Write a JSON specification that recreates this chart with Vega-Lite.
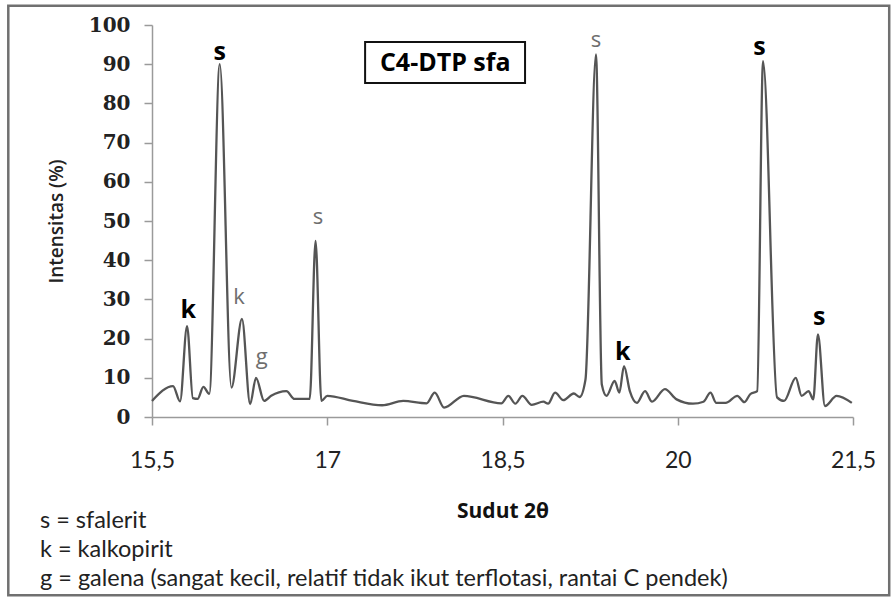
{
  "$schema": "https://vega.github.io/schema/vega-lite/v6.json",
  "width": 701,
  "height": 392,
  "autosize": {"type": "none"},
  "padding": {"left": 152, "top": 25, "right": 40, "bottom": 181},
  "background": "white",
  "config": {
    "view": {"stroke": null},
    "axis": {"labelOverlap": false, "labelSeparation": 0},
    "axisY": {"tickCount": 11, "labelOverlap": false}
  },
  "title": {
    "text": ["s = sfalerit", "k = kalkopirit", "g = galena (sangat kecil, relatif tidak ikut terflotasi, rantai C pendek)"],
    "orient": "bottom",
    "anchor": "start",
    "frame": "group",
    "dx": -112,
    "offset": -88,
    "font": "Lato",
    "fontSize": 23.5,
    "fontWeight": "normal",
    "color": "#222222",
    "lineHeight": 29
  },
  "datasets": {
    "pattern": [
      {"angle": 15.50, "intensity": 4.1},
      {"angle": 15.68, "intensity": 7.9},
      {"angle": 15.74, "intensity": 4.0},
      {"angle": 15.80, "intensity": 23.2},
      {"angle": 15.85, "intensity": 4.8},
      {"angle": 15.89, "intensity": 4.6},
      {"angle": 15.94, "intensity": 7.7},
      {"angle": 15.99, "intensity": 5.9},
      {"angle": 16.08, "intensity": 90.0},
      {"angle": 16.18, "intensity": 7.5},
      {"angle": 16.27, "intensity": 25.0},
      {"angle": 16.34, "intensity": 3.3},
      {"angle": 16.39, "intensity": 10.0},
      {"angle": 16.46, "intensity": 4.1},
      {"angle": 16.52, "intensity": 5.4},
      {"angle": 16.65, "intensity": 6.6},
      {"angle": 16.72, "intensity": 4.6},
      {"angle": 16.85, "intensity": 4.6},
      {"angle": 16.90, "intensity": 44.9},
      {"angle": 16.95, "intensity": 4.1},
      {"angle": 17.00, "intensity": 5.4},
      {"angle": 17.22, "intensity": 4.1},
      {"angle": 17.47, "intensity": 3.0},
      {"angle": 17.65, "intensity": 4.1},
      {"angle": 17.85, "intensity": 3.5},
      {"angle": 17.92, "intensity": 6.2},
      {"angle": 18.00, "intensity": 2.4},
      {"angle": 18.17, "intensity": 5.4},
      {"angle": 18.49, "intensity": 3.5},
      {"angle": 18.55, "intensity": 5.4},
      {"angle": 18.61, "intensity": 3.4},
      {"angle": 18.67, "intensity": 5.4},
      {"angle": 18.75, "intensity": 3.1},
      {"angle": 18.85, "intensity": 3.9},
      {"angle": 18.89, "intensity": 3.4},
      {"angle": 18.95, "intensity": 6.2},
      {"angle": 19.02, "intensity": 4.3},
      {"angle": 19.11, "intensity": 6.0},
      {"angle": 19.16, "intensity": 5.1},
      {"angle": 19.21, "intensity": 9.5},
      {"angle": 19.30, "intensity": 92.5},
      {"angle": 19.35, "intensity": 8.3},
      {"angle": 19.39, "intensity": 5.4},
      {"angle": 19.46, "intensity": 9.2},
      {"angle": 19.50, "intensity": 6.2},
      {"angle": 19.54, "intensity": 13.0},
      {"angle": 19.59, "intensity": 6.6},
      {"angle": 19.65, "intensity": 3.6},
      {"angle": 19.72, "intensity": 6.6},
      {"angle": 19.78, "intensity": 3.9},
      {"angle": 19.89, "intensity": 7.1},
      {"angle": 19.99, "intensity": 4.5},
      {"angle": 20.13, "intensity": 3.4},
      {"angle": 20.22, "intensity": 3.9},
      {"angle": 20.28, "intensity": 6.2},
      {"angle": 20.33, "intensity": 3.6},
      {"angle": 20.41, "intensity": 3.6},
      {"angle": 20.51, "intensity": 5.4},
      {"angle": 20.57, "intensity": 3.8},
      {"angle": 20.62, "intensity": 5.8},
      {"angle": 20.68, "intensity": 6.6},
      {"angle": 20.73, "intensity": 90.8},
      {"angle": 20.85, "intensity": 5.0},
      {"angle": 20.91, "intensity": 4.1},
      {"angle": 21.01, "intensity": 10.0},
      {"angle": 21.06, "intensity": 5.4},
      {"angle": 21.12, "intensity": 6.6},
      {"angle": 21.16, "intensity": 4.5},
      {"angle": 21.20, "intensity": 21.1},
      {"angle": 21.26, "intensity": 2.8},
      {"angle": 21.36, "intensity": 5.4},
      {"angle": 21.49, "intensity": 3.6}
    ],
    "major_labels": [
      {"angle": 15.81, "intensity": 27.3, "label": "k"},
      {"angle": 16.08, "intensity": 93.2, "label": "s"},
      {"angle": 19.53, "intensity": 16.5, "label": "k"},
      {"angle": 20.70, "intensity": 94.5, "label": "s"},
      {"angle": 21.21, "intensity": 25.6, "label": "s"}
    ],
    "minor_labels": [
      {"angle": 16.245, "intensity": 30.7, "label": "k"},
      {"angle": 16.44, "intensity": 15.4, "label": "g"},
      {"angle": 16.92, "intensity": 50.9, "label": "s"},
      {"angle": 19.30, "intensity": 96.3, "label": "s"}
    ],
    "sample": [
      {"angle": 17.324, "angle_end": 18.693, "intensity": 95.66, "intensity_end": 85.2, "mid": 18.01, "level": 90.3, "label": "C4-DTP sfa"}
    ],
    "frame": [
      {"angle": 14.27, "angle_end": 21.81, "intensity": 104.9, "intensity_end": -45.5}
    ]
  },
  "layer": [
    {
      "data": {"name": "frame"},
      "mark": {"type": "rect", "fill": null, "stroke": "#707070", "strokeWidth": 2.5},
      "encoding": {
        "x": {
          "field": "angle", "type": "quantitative",
          "scale": {"domain": [15.5, 21.5], "zero": false, "nice": false},
          "axis": {
            "values": [15.5, 17, 18.5, 20, 21.5],
            "labelExpr": "replace(format(datum.value, '~g'), '.', ',')",
            "title": "Sudut 2θ",
            "titleFont": "Open Sans", "titleFontSize": 21, "titleFontWeight": "bold", "titleColor": "#111111", "titlePadding": 28,
            "labelFont": "Lato", "labelFontSize": 23, "labelColor": "#222222", "labelPadding": 24,
            "tickSize": 8, "tickColor": "#9a9a9a", "domainColor": "#9a9a9a", "domainWidth": 1.5, "tickWidth": 1.5,
            "grid": false, "labelFlush": false, "labelOverlap": false
          }
        },
        "x2": {"field": "angle_end"},
        "y": {
          "field": "intensity", "type": "quantitative",
          "scale": {"domain": [0, 100], "nice": false},
          "axis": {
            "values": [0, 10, 20, 30, 40, 50, 60, 70, 80, 90, 100],
            "title": "Intensitas (%)",
            "titleFont": "Open Sans", "titleFontSize": 19, "titleFontWeight": 600, "titleColor": "#222222", "titlePadding": 22,
            "labelFont": "DejaVu Serif", "labelFontSize": 20, "labelFontWeight": "bold", "labelColor": "#222222", "labelPadding": 14,
            "tickSize": 8, "tickColor": "#9a9a9a", "domainColor": "#9a9a9a", "domainWidth": 1.5, "tickWidth": 1.5,
            "grid": false, "labelFlush": false, "labelOverlap": false
          }
        },
        "y2": {"field": "intensity_end"}
      }
    },
    {
      "data": {"name": "sample"},
      "mark": {"type": "rect", "fill": "white", "stroke": "#111111", "strokeWidth": 2},
      "encoding": {
        "x": {"field": "angle", "type": "quantitative"},
        "x2": {"field": "angle_end"},
        "y": {"field": "intensity", "type": "quantitative"},
        "y2": {"field": "intensity_end"}
      }
    },
    {
      "data": {"name": "sample"},
      "mark": {"type": "text", "font": "Open Sans", "fontSize": 25, "fontWeight": "bold", "color": "#000000", "baseline": "middle", "align": "center"},
      "encoding": {
        "x": {"field": "mid", "type": "quantitative"},
        "y": {"field": "level", "type": "quantitative"},
        "text": {"field": "label"}
      }
    },
    {
      "data": {"name": "pattern"},
      "mark": {"type": "line", "color": "#555555", "strokeWidth": 2.3, "interpolate": "monotone"},
      "encoding": {
        "x": {"field": "angle", "type": "quantitative"},
        "y": {"field": "intensity", "type": "quantitative"}
      }
    },
    {
      "data": {"name": "major_labels"},
      "mark": {"type": "text", "font": "Open Sans", "fontSize": 25, "fontWeight": "bold", "color": "#000000", "baseline": "middle", "align": "center"},
      "encoding": {
        "x": {"field": "angle", "type": "quantitative"},
        "y": {"field": "intensity", "type": "quantitative"},
        "text": {"field": "label"}
      }
    },
    {
      "data": {"name": "minor_labels"},
      "mark": {"type": "text", "font": "Open Sans", "fontSize": 22, "fontWeight": "normal", "color": "#6e6e6e", "baseline": "middle", "align": "center"},
      "encoding": {
        "x": {"field": "angle", "type": "quantitative"},
        "y": {"field": "intensity", "type": "quantitative"},
        "text": {"field": "label"}
      }
    }
  ]
}
